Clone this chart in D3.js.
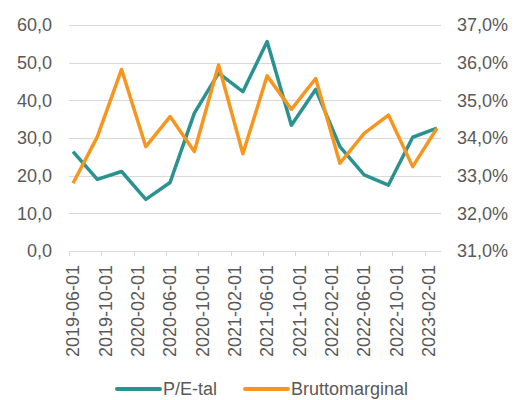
<!DOCTYPE html>
<html>
<head>
<meta charset="utf-8">
<script src="https://cdn.jsdelivr.net/npm/d3@7"></script>
<style>
  body { margin: 0; background: #fff; }
  text { font-family: "Liberation Sans", Arial, sans-serif; fill: #595959; }
</style>
</head>
<body>
<svg id="chart" width="515" height="400"></svg>
<script>
// quarterly observations, month offset from 2019-06
var dates = ['2019-06', '2019-09', '2019-12', '2020-03', '2020-06', '2020-09', '2020-12', '2021-03',
             '2021-06', '2021-09', '2021-12', '2022-03', '2022-06', '2022-09', '2022-12', '2023-03'];
var peValues = [26.4, 19.0, 21.1, 13.7, 18.2, 36.6, 47.2, 42.3, 55.6, 33.4, 42.9, 27.7, 20.2, 17.5, 30.2, 32.6];
var marginValues = [32.80, 34.03, 35.82, 33.77, 34.57, 33.64, 35.94, 33.58, 35.65, 34.76, 35.58, 33.33, 34.12, 34.61, 33.24, 34.26];
var xLabels = ['2019-06-01', '2019-10-01', '2020-02-01', '2020-06-01', '2020-10-01', '2021-02-01',
               '2021-06-01', '2021-10-01', '2022-02-01', '2022-06-01', '2022-10-01', '2023-02-01'];
var leftTicks = [0, 10, 20, 30, 40, 50, 60];
var rightTicks = [31, 32, 33, 34, 35, 36, 37];
var seriesNames = ['P/E-tal', 'Bruttomarginal'];
var colors = ['#2A9290', '#F7961F'];

var svg = d3.select('#chart');
var plotLeft = 69, plotRight = 441, plotTop = 25, plotBottom = 251;
var fontSize = '18px';

function monthIndex(s) {
  var p = s.split('-');
  return (+p[0] - 2019) * 12 + (+p[1] - 6);
}
var nMonths = monthIndex('2023-03') + 1;

var x = d3.scaleLinear().domain([0, nMonths]).range([plotLeft, plotRight]);
var yL = d3.scaleLinear().domain([0, 60]).range([plotBottom, plotTop]);
var yR = d3.scaleLinear().domain([31, 37]).range([plotBottom, plotTop]);

var fmt = function(v) { return d3.format('.1f')(v).replace('.', ','); };

// gridlines
svg.append('g').selectAll('line')
  .data(leftTicks.slice(1))
  .enter().append('line')
  .attr('x1', plotLeft).attr('x2', plotRight)
  .attr('y1', function(d) { return Math.round(yL(d)) + 0.5; })
  .attr('y2', function(d) { return Math.round(yL(d)) + 0.5; })
  .style('stroke', '#D9D9D9').style('stroke-width', 1);

// left axis labels
svg.append('g').selectAll('text')
  .data(leftTicks)
  .enter().append('text')
  .attr('x', 52).attr('y', function(d) { return yL(d); })
  .attr('dy', '0.35em').attr('text-anchor', 'end')
  .style('font-size', fontSize)
  .text(fmt);

// right axis labels
svg.append('g').selectAll('text')
  .data(rightTicks)
  .enter().append('text')
  .attr('x', 457).attr('y', function(d) { return yR(d); })
  .attr('dy', '0.35em').attr('text-anchor', 'start')
  .style('font-size', fontSize)
  .text(function(d) { return fmt(d) + '%'; });

// x axis line + ticks every 4 months
svg.append('line')
  .attr('x1', plotLeft).attr('x2', plotRight)
  .attr('y1', plotBottom + 0.5).attr('y2', plotBottom + 0.5)
  .style('stroke', '#D9D9D9').style('stroke-width', 1);

svg.append('g').selectAll('line')
  .data(xLabels)
  .enter().append('line')
  .attr('x1', function(d) { return Math.round(x(monthIndex(d))) + 0.5; })
  .attr('x2', function(d) { return Math.round(x(monthIndex(d))) + 0.5; })
  .attr('y1', plotBottom).attr('y2', plotBottom + 5)
  .style('stroke', '#D9D9D9').style('stroke-width', 1);

svg.append('g').selectAll('text')
  .data(xLabels)
  .enter().append('text')
  .attr('transform', function(d) {
    return 'translate(' + x(monthIndex(d) + 0.5) + ',' + (plotBottom + 14) + ') rotate(-90)';
  })
  .attr('dy', '0.35em').attr('text-anchor', 'end')
  .style('font-size', fontSize)
  .text(function(d) { return d; });

// lines
var linePE = d3.line()
  .x(function(d, i) { return x(monthIndex(dates[i]) + 0.5); })
  .y(function(d) { return yL(d); });
var lineMargin = d3.line()
  .x(function(d, i) { return x(monthIndex(dates[i]) + 0.5); })
  .y(function(d) { return yR(d); });

svg.append('path').datum(peValues)
  .attr('d', linePE)
  .style('fill', 'none').style('stroke', colors[0])
  .style('stroke-width', 3.5).style('stroke-linejoin', 'round');

svg.append('path').datum(marginValues)
  .attr('d', lineMargin)
  .style('fill', 'none').style('stroke', colors[1])
  .style('stroke-width', 3.5).style('stroke-linejoin', 'round');

// legend
var legend = svg.append('g').attr('transform', 'translate(0,389)');
var legendX = [117, 245];
seriesNames.forEach(function(name, i) {
  legend.append('line')
    .attr('x1', legendX[i]).attr('x2', legendX[i] + 43)
    .attr('y1', 0).attr('y2', 0)
    .style('stroke', colors[i]).style('stroke-width', 4)
    .style('stroke-linecap', 'round');
  legend.append('text')
    .attr('x', legendX[i] + 46).attr('y', 0).attr('dy', '0.35em')
    .style('font-size', fontSize)
    .text(name);
});
</script>
</body>
</html>
